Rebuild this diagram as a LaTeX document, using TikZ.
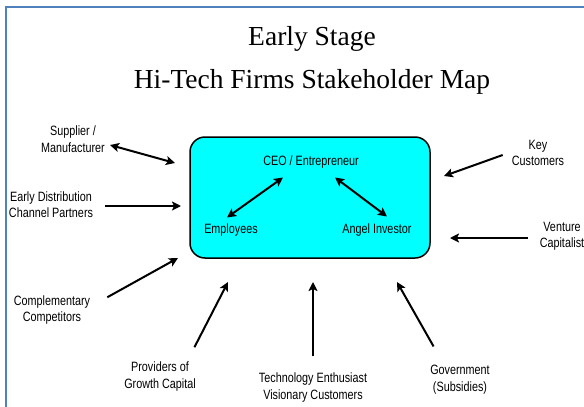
\documentclass[tikz,border=0pt]{standalone}
\usepackage{fontspec}
\setmainfont{Liberation Serif}
\newfontfamily\labelfont[FakeStretch=0.8]{Liberation Sans}
\usetikzlibrary{arrows.meta}
\definecolor{frameblue}{RGB}{79,129,189}
\definecolor{firmcyan}{RGB}{0,255,255}

\begin{document}
\begin{tikzpicture}[x = 1pt, y = -1pt, font = \labelfont]
	\tikzstyle{labelStyle} = [align = center, inner sep = 2pt, font = \labelfont\fontsize{13.5}{16.5}\selectfont]
	\tikzstyle{arrowStyle} = [line width = 2pt, -{Stealth[length = 9pt, width = 9pt, inset = 2pt]}]
	\tikzstyle{bothStyle} = [line width = 2pt, {Stealth[length = 9pt, width = 9pt, inset = 2pt]}-{Stealth[length = 9pt, width = 9pt, inset = 2pt]}]
	\useasboundingbox (0, 0) rectangle (584, 407);
	\draw[frameblue, line width = 2pt] (6, 407) -- (6, 7) -- (584, 7);
	\node[font = \rmfamily\fontsize{27.5}{43}\selectfont, align = center] (title) at (312, 60) {Early Stage\\Hi-Tech Firms Stakeholder Map};
	% the firm
	\node[draw, fill = firmcyan, line width = 1.5pt, rounded corners = 15pt, minimum width = 240pt, minimum height = 121pt] (firm) at (310, 197.5) {};
	\node[labelStyle] (ceo) at (311, 162) {CEO / Entrepreneur};
	\node[labelStyle] (emp) at (231, 230) {Employees};
	\node[labelStyle] (angel) at (377, 230) {Angel Investor};
	\draw[bothStyle] ([xshift = -4pt, yshift = 4pt]emp.north) -- ([xshift = -28pt, yshift = -7pt]ceo.south);
	\draw[bothStyle] ([xshift = 24pt, yshift = -7pt]ceo.south) -- ([xshift = 10pt, yshift = 5pt]angel.north);
	% stakeholders
	\node[labelStyle] (sup) at (73, 139) {Supplier /\\Manufacturer};
	\node[labelStyle] (dist) at (51, 204.5) {Early Distribution\\Channel Partners};
	\node[labelStyle] (comp) at (52, 310) {Complementary\\Competitors};
	\node[labelStyle] (prov) at (160, 376.5) {Providers of\\Growth Capital};
	\node[labelStyle] (tech) at (313, 387.5) {Technology Enthusiast\\Visionary Customers};
	\node[labelStyle] (gov) at (460, 379.5) {Government\\(Subsidies)};
	\node[labelStyle] (key) at (538, 153) {Key\\Customers};
	\node[labelStyle] (vc) at (562, 236.5) {Venture\\Capitalist};
	\coordinate (supIn) at (175, 163);
	\coordinate (distIn) at (181, 206);
	\coordinate (compIn) at (178, 258);
	\coordinate (provIn) at (228, 282);
	\coordinate (techIn) at (313, 282);
	\coordinate (govIn) at (397, 282);
	\coordinate (keyIn) at (444, 176);
	\coordinate (vcIn) at (450, 238);
	\draw[bothStyle] ([xshift = 3pt, yshift = -6pt]sup.east) -- (supIn);
	\draw[arrowStyle] ([xshift = 10pt, yshift = -1.5pt]dist.east) -- (distIn);
	\draw[arrowStyle] ([xshift = 15pt, yshift = -4pt]comp.north east) -- (compIn);
	\draw[arrowStyle] ([xshift = -3.5pt, yshift = 12.5pt]prov.north east) -- (provIn);
	\draw[arrowStyle] ([yshift = 14.5pt]tech.north) -- (techIn);
	\draw[arrowStyle] ([xshift = 5.5pt, yshift = 16.5pt]gov.north west) -- (govIn);
	\draw[arrowStyle] ([xshift = -7pt, yshift = -2pt]key.west) -- (keyIn);
	\draw[arrowStyle] ([xshift = -10pt, yshift = -1.5pt]vc.west) -- (vcIn);
\end{tikzpicture}
\end{document}
